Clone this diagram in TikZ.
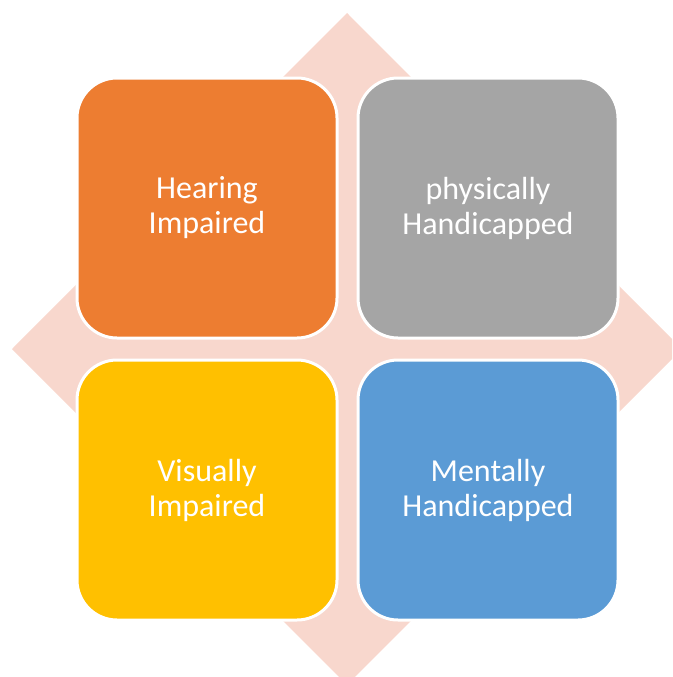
\documentclass[tikz,border=0pt]{standalone}
\usepackage{fontspec}
\setmainfont{Carlito}
\definecolor{diamondpink}{HTML}{F8D7CD}
\definecolor{hearingorange}{HTML}{ED7D31}
\definecolor{physicalgray}{HTML}{A5A5A5}
\definecolor{visualyellow}{HTML}{FFC000}
\definecolor{mentalblue}{HTML}{5B9BD5}
\tikzset{
    tile/.style={draw=white, line width=3pt, rounded corners=40pt,
        minimum width=260pt, minimum height=260pt, align=center,
        text=white, font=\fontsize{32}{35}\selectfont}
}

\begin{document}
\begin{tikzpicture}[x=1pt, y=-1pt]
    \useasboundingbox (0,0) rectangle (672,677);
    \clip (0,0) rectangle (672,677);
    \fill[diamondpink] (347,13) -- (682,349) -- (347,685) -- (12,349) -- cycle;
    \foreach \name/\x/\y/\col/\txt in {
        hearing/207/208/hearingorange/{Hearing\\Impaired},
        physical/488/208/physicalgray/{physically\\Handicapped},
        visual/207/490/visualyellow/{Visually\\Impaired},
        mental/488/490/mentalblue/{Mentally\\Handicapped}}{
        \node[tile, fill=\col] (\name) at (\x,\y) {\txt};
    }
\end{tikzpicture}
\end{document}
